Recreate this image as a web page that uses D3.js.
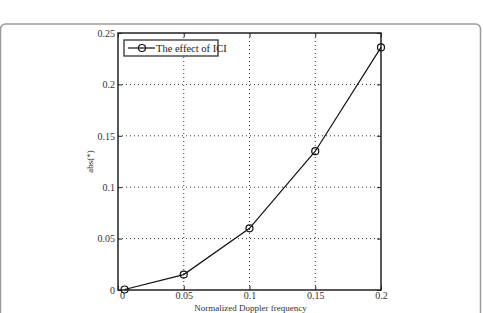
<!DOCTYPE html>
<html>
<head>
<meta charset="utf-8">
<script src="https://cdn.jsdelivr.net/npm/d3@7"></script>
<style>
  body { margin: 0; background: #fff; }
  svg { display: block; font-family: "Liberation Serif", "Times New Roman", serif; }
</style>
</head>
<body>
<div id="chart"></div>
<script>
var freq = [0.005, 0.05, 0.1, 0.15, 0.2];
var ici = [0.0005, 0.015, 0.06, 0.135, 0.236];
var xTicks = [0, 0.05, 0.1, 0.15, 0.2];
var yTicks = [0, 0.05, 0.1, 0.15, 0.2, 0.25];
var seriesName = "The effect of ICI";

var width = 483, height = 313;
// plot box (note: "top" is reserved on window)
var pLeft = 118, pRight = 381, pTop = 33, pBottom = 290;

var svg = d3.select("#chart").append("svg").attr("width", width).attr("height", height);

// outer frame
svg.append("rect").attr("x", 0.5).attr("y", 24).attr("width", 480).attr("height", 320)
  .attr("rx", 5).attr("fill", "none").attr("stroke", "#9a9a9a").attr("stroke-width", 1.5);

var x = d3.scaleLinear().domain([0, 0.2]).range([pLeft, pRight]);
var y = d3.scaleLinear().domain([0, 0.25]).range([pBottom, pTop]);

// grid
svg.append("g").selectAll("line").data(xTicks.slice(1, -1)).enter().append("line")
  .attr("x1", function(d) { return x(d); }).attr("x2", function(d) { return x(d); })
  .attr("y1", pTop).attr("y2", pBottom)
  .attr("stroke", "#333").attr("stroke-width", 1).attr("stroke-dasharray", "1,3");
svg.append("g").selectAll("line").data(yTicks.slice(1, -1)).enter().append("line")
  .attr("y1", function(d) { return y(d); }).attr("y2", function(d) { return y(d); })
  .attr("x1", pLeft).attr("x2", pRight)
  .attr("stroke", "#333").attr("stroke-width", 1).attr("stroke-dasharray", "1,3");

// axes (ticks inside)
var fmt = function(d) { return d3.format("~g")(d); };
var xb = svg.append("g").attr("transform", "translate(0," + pBottom + ")")
  .call(d3.axisBottom(x).tickValues(xTicks).tickSize(-4).tickPadding(2).tickFormat(fmt));
var xt = svg.append("g").attr("transform", "translate(0," + pTop + ")")
  .call(d3.axisTop(x).tickValues(xTicks).tickSize(-4).tickFormat(""));
var yl = svg.append("g").attr("transform", "translate(" + pLeft + ",0)")
  .call(d3.axisLeft(y).tickValues(yTicks).tickSize(-4).tickPadding(3).tickFormat(fmt));
var yr = svg.append("g").attr("transform", "translate(" + pRight + ",0)")
  .call(d3.axisRight(y).tickValues(yTicks).tickSize(-4).tickFormat(""));
[xb, xt, yl, yr].forEach(function(g) {
  g.select(".domain").remove();
  g.selectAll("line").attr("stroke", "#222");
  g.selectAll("text").attr("font-family", "Liberation Serif").attr("font-size", 10).attr("fill", "#333");
});
xb.selectAll("text").attr("dx", function(d) { return d === 0 ? 4 : 0; });

svg.append("rect").attr("x", pLeft).attr("y", pTop).attr("width", pRight - pLeft).attr("height", pBottom - pTop)
  .attr("fill", "none").attr("stroke", "#222").attr("stroke-width", 1.5);

// series
var pts = freq.map(function(f, i) { return [f, ici[i]]; });
svg.append("path").datum(pts)
  .attr("d", d3.line().x(function(d) { return x(d[0]); }).y(function(d) { return y(d[1]); }))
  .attr("fill", "none").attr("stroke", "#111").attr("stroke-width", 1.2);
svg.append("g").selectAll("circle").data(pts).enter().append("circle")
  .attr("cx", function(d) { return x(d[0]); }).attr("cy", function(d) { return y(d[1]); })
  .attr("r", 3.5).attr("fill", "none").attr("stroke", "#111").attr("stroke-width", 1.2);

// legend
var lg = svg.append("g");
lg.append("rect").attr("x", 124).attr("y", 40).attr("width", 94).attr("height", 16)
  .attr("fill", "#fff").attr("stroke", "#222").attr("stroke-width", 1.2);
lg.append("line").attr("x1", 128).attr("x2", 155).attr("y1", 48).attr("y2", 48)
  .attr("stroke", "#111").attr("stroke-width", 1.2);
lg.append("circle").attr("cx", 142).attr("cy", 48).attr("r", 3.5)
  .attr("fill", "none").attr("stroke", "#111").attr("stroke-width", 1.2);
lg.append("text").attr("x", 156).attr("y", 52).attr("font-size", 10.5).attr("fill", "#222").text(seriesName);

// axis titles
svg.append("text").attr("x", (pLeft + pRight) / 2 + 1).attr("y", 311).attr("text-anchor", "middle")
  .attr("font-size", 9).attr("fill", "#333").text("Normalized Doppler frequency");
svg.append("text").attr("transform", "translate(93," + ((pTop + pBottom) / 2) + ") rotate(-90)")
  .attr("text-anchor", "middle").attr("font-size", 9).attr("fill", "#333").text("abs(*)");
</script>
</body>
</html>
